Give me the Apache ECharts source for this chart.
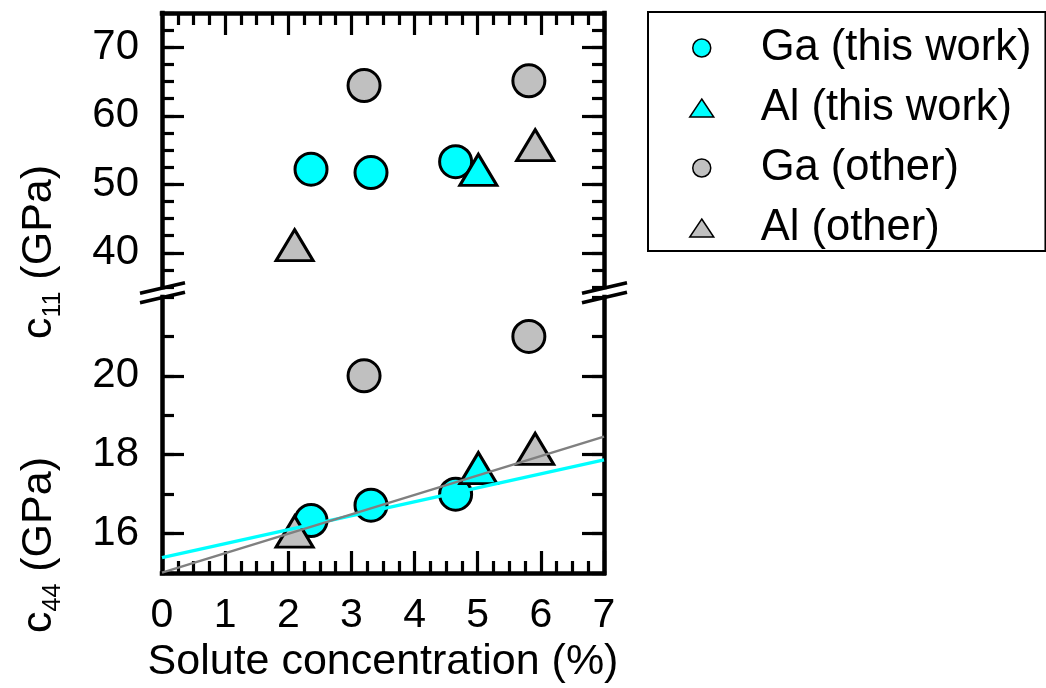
<!DOCTYPE html>
<html>
<head>
<meta charset="utf-8">
<script src="https://cdn.jsdelivr.net/npm/echarts@6/dist/echarts.min.js"></script>
<style>
  html, body { margin: 0; padding: 0; background: #fff; }
  #chart { width: 1046px; height: 688px; }
</style>
</head>
<body>
<div id="chart"></div>
<script>
// Solute concentration (%) for each data set
const gaThisConc = [2.36, 3.31, 4.65];
const alThisConc = [5.01];
const gaOtherConc = [3.20, 5.81];
const alOtherConc = [2.10, 5.91];

// Elastic constant c11 (GPa)
const gaThisC11 = [52.2, 51.7, 53.3];
const alThisC11 = [52.1];
const gaOtherC11 = [64.4, 65.1];
const alOtherC11 = [41.1, 55.7];

// Elastic constant c44 (GPa)
const gaThisC44 = [16.33, 16.72, 17.0];
const alThisC44 = [17.66];
const gaOtherC44 = [20.0, 21.0];
const alOtherC44 = [16.05, 18.15];

// Linear trend lines for c44 (end points)
const fitConc = [0, 7];
const thisWorkFitC44 = [15.39, 17.87];
const otherFitC44 = [15.01, 18.46];

// Tick labels
const xTicks = [0, 1, 2, 3, 4, 5, 6, 7];
const c11Ticks = [40, 50, 60, 70];
const c44Ticks = [16, 18, 20];

const seriesNames = ['Ga (this work)', 'Al (this work)', 'Ga (other)', 'Al (other)'];

const FONT = 'Liberation Sans, Arial, sans-serif';
const CYAN = '#00FFFF';
const GREY = '#C0C0C0';

const pairs = (xs, ys) => xs.map((x, i) => [x, ys[i]]);

const chart = echarts.init(document.getElementById('chart'), null, { renderer: 'canvas' });

const frameLine = { show: true, onZero: false, lineStyle: { color: '#000', width: 4.5, cap: 'square' } };
const tickStyle = { color: '#000', width: 3.2 };

function xAxisFor(gridIndex, position, withLabels) {
  return {
    type: 'value', gridIndex, position, min: 0, max: 7, interval: 1,
    axisLine: frameLine,
    axisTick: { show: true, inside: true, length: 22, lineStyle: tickStyle },
    minorTick: { show: true, splitNumber: 4, length: 12, lineStyle: tickStyle },
    splitLine: { show: false },
    axisLabel: withLabels ? {
      show: true, margin: 22, fontSize: 41, fontFamily: FONT, color: '#000',
      formatter: v => (xTicks.includes(v) ? String(v) : '')
    } : { show: false },
    name: withLabels ? 'Solute concentration (%)' : '',
    nameLocation: 'middle', nameGap: 68,
    nameTextStyle: { fontSize: 43, fontFamily: FONT, color: '#000' }
  };
}

// Each side of a panel gets a short-tick axis (frame line + minor ticks)
// and an overlaid long-tick axis for the labelled values.
function yAxesFor(gridIndex, min, max, step, labelled) {
  const minorAxis = (position, withLabels) => ({
    type: 'value', gridIndex, position, min, max, interval: step,
    axisLine: frameLine,
    axisTick: { show: true, inside: true, length: 12, lineStyle: tickStyle },
    splitLine: { show: false },
    axisLabel: withLabels ? {
      show: true, margin: 23, fontSize: 42, fontFamily: FONT, color: '#000',
      formatter: v => (labelled.includes(v) ? String(v) : '')
    } : { show: false }
  });
  const majorAxis = (position) => ({
    type: 'value', gridIndex, position, min, max, interval: step,
    axisLine: { show: false, onZero: false },
    axisTick: { show: true, inside: true, length: 22, customValues: labelled, lineStyle: tickStyle },
    splitLine: { show: false },
    axisLabel: { show: false }
  });
  return [minorAxis('left', true), majorAxis('left'), minorAxis('right', false), majorAxis('right')];
}

const markerBorder = { borderColor: '#000', borderWidth: 3 };
const CIRCLE = 32;
const TRI = [37, 31];

function scatter(name, xIdx, yIdx, data, symbol, color) {
  return {
    name, type: 'scatter', xAxisIndex: xIdx, yAxisIndex: yIdx,
    data, symbol, symbolSize: symbol === 'circle' ? CIRCLE : TRI,
    itemStyle: Object.assign({ color, opacity: 1 }, markerBorder),
    emphasis: { disabled: true }, silent: true
  };
}

const triIcon = 'path://M12,0 L24,18 L0,18 Z';

const option = {
  backgroundColor: '#fff',
  animation: false,
  grid: [
    { left: 162, right: 442, top: 13, height: 274, outerBoundsMode: 'none' },
    { left: 162, right: 442, top: 297, height: 276, outerBoundsMode: 'none' }
  ],
  xAxis: [xAxisFor(0, 'top', false), xAxisFor(1, 'bottom', true)],
  yAxis: [].concat(yAxesFor(0, 35, 75, 2.5, c11Ticks), yAxesFor(1, 15, 22, 1, c44Ticks)),
  legend: {
    orient: 'vertical', left: 648, top: 12,
    padding: [14, 14, 1, 41],
    itemWidth: 108, itemHeight: 18, itemGap: 16,
    borderColor: '#000', borderWidth: 2,
    itemStyle: { borderWidth: 1.5, borderColor: '#000' },
    textStyle: { fontSize: 43.5, fontFamily: FONT, color: '#000' },
    selectedMode: false,
    data: [
      { name: seriesNames[0], icon: 'circle' },
      { name: seriesNames[1], icon: triIcon },
      { name: seriesNames[2], icon: 'circle' },
      { name: seriesNames[3], icon: triIcon }
    ]
  },
  series: [
    // c11 panel
    scatter(seriesNames[0], 0, 0, pairs(gaThisConc, gaThisC11), 'circle', CYAN),
    scatter(seriesNames[1], 0, 0, pairs(alThisConc, alThisC11), 'triangle', CYAN),
    scatter(seriesNames[2], 0, 0, pairs(gaOtherConc, gaOtherC11), 'circle', GREY),
    scatter(seriesNames[3], 0, 0, pairs(alOtherConc, alOtherC11), 'triangle', GREY),
    // c44 panel
    scatter(seriesNames[0], 1, 4, pairs(gaThisConc, gaThisC44), 'circle', CYAN),
    scatter(seriesNames[1], 1, 4, pairs(alThisConc, alThisC44), 'triangle', CYAN),
    scatter(seriesNames[2], 1, 4, pairs(gaOtherConc, gaOtherC44), 'circle', GREY),
    scatter(seriesNames[3], 1, 4, pairs(alOtherConc, alOtherC44), 'triangle', GREY),
    // trend lines drawn over the markers
    {
      type: 'line', xAxisIndex: 1, yAxisIndex: 4, data: pairs(fitConc, thisWorkFitC44),
      symbol: 'none', lineStyle: { color: CYAN, width: 3.5 }, silent: true, z: 3
    },
    {
      type: 'line', xAxisIndex: 1, yAxisIndex: 4, data: pairs(fitConc, otherFitC44),
      symbol: 'none', lineStyle: { color: '#808080', width: 2.5 }, silent: true, z: 4
    }
  ],
  graphic: [
    // axis break marks
    { type: 'line', shape: { x1: 140, y1: 293.3, x2: 185, y2: 282.7 }, style: { stroke: '#000', lineWidth: 3.5 }, z: 10 },
    { type: 'line', shape: { x1: 140, y1: 302.7, x2: 185, y2: 292.3 }, style: { stroke: '#000', lineWidth: 3.5 }, z: 10 },
    { type: 'line', shape: { x1: 582, y1: 293.3, x2: 627, y2: 282.7 }, style: { stroke: '#000', lineWidth: 3.5 }, z: 10 },
    { type: 'line', shape: { x1: 582, y1: 302.7, x2: 627, y2: 292.3 }, style: { stroke: '#000', lineWidth: 3.5 }, z: 10 },
    // y-axis titles with subscripts
    {
      type: 'text', x: 39, y: 252, rotation: Math.PI / 2,
      style: {
        text: '{m|c}{s|11}{m| (GPa)}', align: 'center', verticalAlign: 'middle',
        rich: {
          m: { fontSize: 43, fontFamily: FONT, fill: '#000' },
          s: { fontSize: 25, fontFamily: FONT, fill: '#000', padding: [28, 0, 0, 0] }
        }
      }
    },
    {
      type: 'text', x: 39, y: 545, rotation: Math.PI / 2,
      style: {
        text: '{m|c}{s|44}{m| (GPa)}', align: 'center', verticalAlign: 'middle',
        rich: {
          m: { fontSize: 43, fontFamily: FONT, fill: '#000' },
          s: { fontSize: 25, fontFamily: FONT, fill: '#000', padding: [28, 0, 0, 0] }
        }
      }
    }
  ]
};

chart.setOption(option);
</script>
</body>
</html>
